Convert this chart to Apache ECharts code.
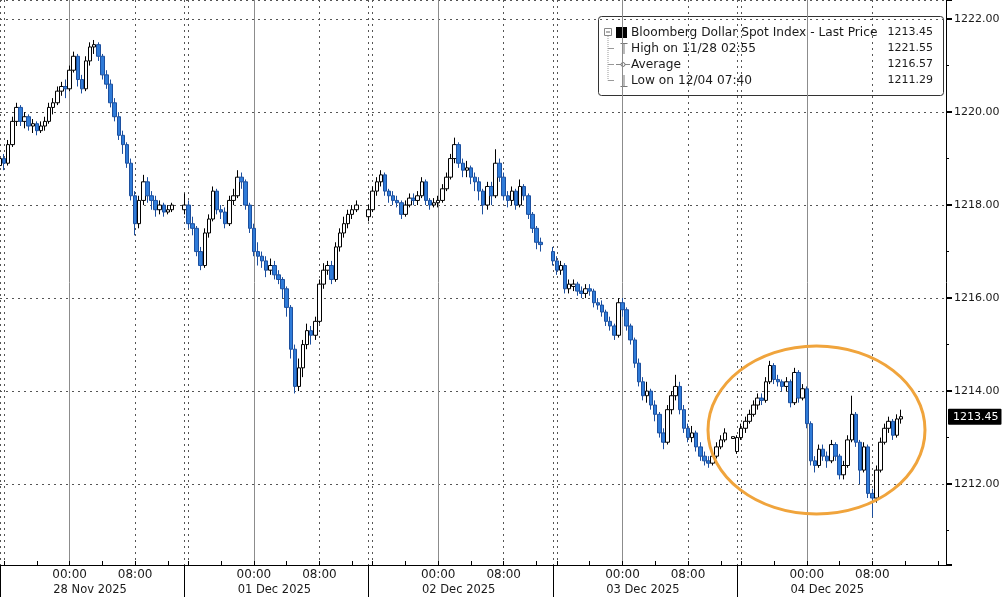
<!DOCTYPE html>
<html><head><meta charset="utf-8">
<script src="https://cdn.jsdelivr.net/npm/echarts@6/dist/echarts.min.js"></script>
<style>html,body{margin:0;padding:0;background:#fff;}#c{width:1003px;height:597px;}</style>
</head><body><div id="c"></div>
<script>
const FONT = 'DejaVu Sans';
const sessionDates = ['28 Nov 2025', '01 Dec 2025', '02 Dec 2025', '03 Dec 2025', '04 Dec 2025'];
const sessionSlots = [45, 45, 45, 45, 52];   // 30-minute slots, each session starts 15:30
const timeTickLabels = ['00:00', '08:00'];
const lastPrice = 1213.45;
const legendLabels = ['Bloomberg Dollar Spot Index - Last Price', 'High on 11/28 02:55', 'Average', 'Low on 12/04 07:40'];
const legendValues = [1213.45, 1221.55, 1216.57, 1211.29];

// bars: [open, close, low, high]
const nov28 = [
[1218.85,1219.0,1218.8,1219.15],[1219.0,1218.9,1218.75,1219.1],[1218.9,1219.3,1218.85,1219.4],[1219.3,1219.8,1219.25,1219.9],
[1219.8,1220.1,1219.7,1220.2],[1220.1,1219.8,1219.7,1220.15],[1219.8,1219.9,1219.65,1220.0],[1219.9,1219.7,1219.6,1219.95],
[1219.7,1219.75,1219.55,1219.85],[1219.75,1219.6,1219.5,1219.8],[1219.6,1219.7,1219.55,1219.8],[1219.7,1219.8,1219.6,1219.9],
[1219.8,1220.1,1219.75,1220.2],[1220.1,1220.2,1219.95,1220.3],[1220.2,1220.45,1220.15,1220.55],[1220.45,1220.55,1220.35,1220.65],
[1220.55,1220.5,1220.3,1220.7],[1220.5,1220.9,1220.45,1221.0],[1220.9,1221.2,1220.85,1221.3],[1221.2,1220.7,1220.55,1221.25],
[1220.7,1220.5,1220.4,1220.8],[1220.5,1221.1,1220.45,1221.2],[1221.1,1221.4,1221.0,1221.5],[1221.4,1221.45,1221.25,1221.55],
[1221.45,1221.2,1221.1,1221.5],[1221.2,1220.8,1220.7,1221.25],[1220.8,1220.6,1220.5,1220.9],[1220.6,1220.2,1220.1,1220.7],
[1220.2,1219.9,1219.8,1220.3],[1219.9,1219.5,1219.4,1220.0],[1219.5,1219.3,1219.1,1219.6],[1219.3,1218.9,1218.8,1219.35],
[1218.9,1218.2,1218.1,1219.0],[1218.2,1217.6,1217.35,1218.3],[1217.6,1218.1,1217.5,1218.2],[1218.1,1218.5,1218.0,1218.65],
[1218.5,1218.2,1218.05,1218.6],[1218.2,1218.1,1217.9,1218.3],[1218.1,1217.9,1217.75,1218.2],[1217.9,1218.0,1217.8,1218.1],
[1218.0,1217.85,1217.75,1218.05],[1217.85,1217.9,1217.8,1218.0],[1217.9,1218.0,1217.85,1218.05]
];
const dec01 = [
[1217.9,1218.0,1217.8,1218.25],[1218.0,1217.6,1217.5,1218.1],[1217.6,1217.5,1217.35,1217.75],[1217.5,1217.0,1216.9,1217.55],
[1217.0,1216.7,1216.6,1217.1],[1216.7,1217.4,1216.65,1217.5],[1217.4,1217.7,1217.3,1217.8],[1217.7,1218.3,1217.65,1218.4],
[1218.3,1217.9,1217.8,1218.35],[1217.9,1217.85,1217.7,1218.0],[1217.85,1217.6,1217.5,1217.95],[1217.6,1218.1,1217.55,1218.2],
[1218.1,1218.2,1218.0,1218.35],[1218.2,1218.6,1218.15,1218.75],[1218.6,1218.5,1218.35,1218.7],[1218.5,1218.0,1217.9,1218.55],
[1218.0,1217.5,1217.4,1218.05],[1217.5,1217.0,1216.9,1217.6],[1217.0,1216.9,1216.7,1217.2],[1216.9,1216.8,1216.65,1217.0],
[1216.8,1216.6,1216.45,1216.9],[1216.6,1216.7,1216.5,1216.85],[1216.7,1216.5,1216.4,1216.8],[1216.5,1216.4,1216.3,1216.6],
[1216.4,1216.2,1216.0,1216.45],[1216.2,1215.8,1215.6,1216.25],[1215.8,1214.9,1214.7,1215.85],[1214.9,1214.1,1213.95,1215.0],
[1214.1,1214.5,1214.0,1214.7],[1214.5,1215.0,1214.3,1215.1],[1215.0,1215.3,1214.9,1215.45],[1215.3,1215.2,1215.0,1215.4],
[1215.2,1215.5,1215.1,1215.6],[1215.5,1216.3,1215.45,1216.4],[1216.3,1216.6,1216.2,1216.75],[1216.6,1216.7,1216.5,1216.8],
[1216.7,1216.4,1216.3,1216.8],[1216.4,1217.1,1216.35,1217.2],[1217.1,1217.4,1217.0,1217.5],[1217.4,1217.6,1217.3,1217.75],
[1217.6,1217.8,1217.5,1217.9],[1217.8,1217.9,1217.7,1218.0],[1217.9,1218.0,1217.85,1218.1]
];
const dec02 = [
[1217.75,1217.9,1217.65,1218.0],[1217.9,1218.3,1217.85,1218.4],[1218.3,1218.5,1218.2,1218.6],[1218.5,1218.65,1218.4,1218.75],
[1218.65,1218.3,1218.2,1218.7],[1218.3,1218.2,1218.05,1218.35],[1218.2,1218.1,1218.0,1218.3],[1218.1,1218.05,1217.95,1218.2],
[1218.05,1217.8,1217.7,1218.1],[1217.8,1218.0,1217.75,1218.1],[1218.0,1218.15,1217.95,1218.25],[1218.15,1218.1,1218.0,1218.25],
[1218.1,1218.2,1218.0,1218.3],[1218.2,1218.5,1218.15,1218.6],[1218.5,1218.1,1218.0,1218.55],[1218.1,1218.0,1217.9,1218.15],
[1218.0,1218.05,1217.95,1218.15],[1218.05,1218.1,1217.95,1218.2],[1218.1,1218.35,1218.05,1218.45],[1218.35,1218.6,1218.3,1218.7],
[1218.6,1219.0,1218.55,1219.1],[1219.0,1219.3,1218.9,1219.45],[1219.3,1218.9,1218.8,1219.35],[1218.9,1218.75,1218.6,1219.0],
[1218.75,1218.8,1218.6,1218.95],[1218.8,1218.6,1218.45,1218.85],[1218.6,1218.5,1218.3,1218.7],[1218.5,1218.3,1218.1,1218.6],
[1218.3,1218.0,1217.8,1218.35],[1218.0,1218.4,1217.9,1218.5],[1218.4,1218.2,1218.0,1218.5],[1218.2,1218.9,1218.15,1219.2],
[1218.9,1218.6,1218.5,1219.0],[1218.6,1218.2,1218.1,1218.7],[1218.2,1218.1,1217.95,1218.3],[1218.1,1218.3,1218.0,1218.4],
[1218.3,1218.0,1217.9,1218.35],[1218.0,1218.4,1217.95,1218.55],[1218.4,1218.2,1218.1,1218.45],[1218.2,1217.8,1217.7,1218.25],
[1217.8,1217.5,1217.4,1217.85],[1217.5,1217.2,1217.05,1217.55],[1217.2,1217.15,1217.0,1217.3]
];
const dec03 = [
[1217.0,1216.8,1216.7,1217.1],[1216.8,1216.6,1216.5,1216.9],[1216.6,1216.7,1216.5,1216.8],[1216.7,1216.2,1216.1,1216.75],
[1216.2,1216.3,1216.1,1216.4],[1216.25,1216.3,1216.15,1216.4],[1216.3,1216.15,1216.05,1216.35],[1216.15,1216.1,1216.0,1216.25],
[1216.1,1216.2,1216.0,1216.3],[1216.2,1216.15,1216.05,1216.3],[1216.15,1215.9,1215.8,1216.2],[1215.9,1215.85,1215.75,1216.0],
[1215.85,1215.7,1215.6,1215.95],[1215.7,1215.5,1215.4,1215.75],[1215.5,1215.4,1215.3,1215.6],[1215.4,1215.2,1215.1,1215.45],
[1215.2,1215.9,1215.15,1216.0],[1215.9,1215.75,1215.6,1216.0],[1215.75,1215.4,1215.3,1215.8],[1215.4,1215.1,1215.0,1215.45],
[1215.1,1214.6,1214.5,1215.15],[1214.6,1214.2,1214.1,1214.7],[1214.2,1213.9,1213.8,1214.3],[1213.9,1214.0,1213.75,1214.2],
[1214.0,1213.7,1213.6,1214.05],[1213.7,1213.5,1213.35,1213.8],[1213.5,1213.1,1213.0,1213.55],[1213.1,1212.9,1212.75,1213.2],
[1212.9,1213.6,1212.85,1213.7],[1213.6,1213.9,1213.5,1214.0],[1213.9,1214.1,1213.8,1214.35],[1214.1,1213.6,1213.5,1214.2],
[1213.6,1213.2,1213.1,1213.7],[1213.2,1213.0,1212.9,1213.3],[1213.0,1213.1,1212.9,1213.25],[1213.1,1212.8,1212.7,1213.15],
[1212.8,1212.6,1212.5,1212.9],[1212.6,1212.5,1212.4,1212.7],[1212.5,1212.45,1212.35,1212.6],[1212.45,1212.6,1212.4,1212.7],
[1212.6,1212.8,1212.55,1212.9],[1212.8,1212.95,1212.75,1213.05],[1212.95,1213.1,1212.9,1213.2],null,
[1212.98,1213.02,1212.98,1213.02]
];
const dec04 = [
[1212.7,1213.0,1212.65,1213.05],[1213.0,1213.2,1212.95,1213.3],[1213.2,1213.35,1213.1,1213.45],[1213.35,1213.5,1213.3,1213.6],
[1213.5,1213.7,1213.45,1213.8],[1213.7,1213.85,1213.6,1213.95],[1213.85,1213.8,1213.7,1213.95],[1213.8,1214.2,1213.75,1214.3],
[1214.2,1214.55,1214.15,1214.65],[1214.55,1214.25,1214.15,1214.6],[1214.25,1214.2,1214.1,1214.35],[1214.2,1214.1,1214.0,1214.25],
[1214.1,1214.2,1214.0,1214.3],[1214.2,1213.75,1213.65,1214.25],[1213.75,1214.4,1213.7,1214.5],[1214.4,1213.85,1213.75,1214.45],
[1213.85,1214.05,1213.8,1214.15],[1214.05,1213.3,1213.2,1214.1],[1213.3,1212.5,1212.4,1213.35],[1212.5,1212.4,1212.25,1212.6],
[1212.4,1212.75,1212.35,1212.85],[1212.75,1212.6,1212.5,1212.85],[1212.6,1212.5,1212.35,1212.7],[1212.5,1212.85,1212.45,1212.95],
[1212.85,1212.6,1212.5,1212.9],[1212.6,1212.2,1212.1,1212.65],[1212.2,1212.4,1212.1,1212.5],[1212.4,1212.95,1212.35,1213.05],
[1212.95,1213.5,1212.9,1213.9],[1213.5,1212.9,1212.8,1213.55],[1212.9,1212.3,1212.0,1212.95],[1212.3,1212.8,1212.25,1212.9],
[1212.8,1211.8,1211.7,1212.85],[1211.8,1211.7,1211.29,1211.9],[1211.7,1212.3,1211.6,1212.4],[1212.3,1212.9,1212.25,1213.0],
[1212.9,1213.2,1212.85,1213.3],[1213.2,1213.35,1213.1,1213.45],[1213.35,1213.05,1212.95,1213.4],[1213.05,1213.4,1213.0,1213.5],
[1213.4,1213.45,1213.3,1213.6]
];
const sessionBars = [nov28, dec01, dec02, dec03, dec04];

// build category slots
const categories = [], slotIdx = [], bars = [];
sessionSlots.forEach((n, k) => {
  for (let j = 0; j < n; j++) {
    const m = (15 * 60 + 30 + 30 * j) % 1440;
    const t = String(Math.floor(m / 60)).padStart(2, '0') + ':' + String(m % 60).padStart(2, '0');
    categories.push(k + ' ' + t);
    slotIdx.push(j);
    const b = sessionBars[k][j];
    bars.push(b ? b : '-');
  }
});
const timeOf = v => v.split(' ')[1];
const sessOf = v => +v.split(' ')[0];

const chart = echarts.init(document.getElementById('c'), null, {renderer: 'canvas'});

chart.setOption({
  animation: false,
  backgroundColor: '#ffffff',
  grid: {left: 0, right: 57, top: 0, bottom: 32, containLabel: false},
  xAxis: [{
    type: 'category', data: categories, boundaryGap: false, position: 'bottom',
    axisLine: {show: true, lineStyle: {color: '#000', width: 1}},
    axisTick: {show: true, inside: true, length: 4, lineStyle: {color: '#000'},
      interval: (i) => (slotIdx[i] - 1) % 8 === 0},
    axisLabel: {show: true, margin: 4, fontSize: 12, fontFamily: FONT, color: '#1a1a1a',
      interval: (i, v) => timeTickLabels.indexOf(timeOf(v)) >= 0,
      formatter: (v) => timeOf(v)},
    splitLine: {show: true, interval: (i, v) => timeOf(v) === '00:00',
      lineStyle: {color: '#8c8c8c', width: 1, type: 'solid'}}
  }, {
    type: 'category', data: categories, boundaryGap: false, position: 'bottom',
    axisLine: {show: false},
    axisTick: {show: true, inside: false, length: 34, lineStyle: {color: '#000'},
      interval: (i) => slotIdx[i] === 0},
    axisLabel: {show: true, margin: 19, fontSize: 11.5, fontFamily: FONT, color: '#1a1a1a',
      interval: (i) => slotIdx[i] === 22,
      formatter: (v) => sessionDates[sessOf(v)]},
    splitLine: {show: true, interval: (i, v) => slotIdx[i] === 0 || slotIdx[i] === 1 || timeOf(v) === '08:00',
      lineStyle: {color: '#555', width: 1, type: [2, 4]}}
  }],
  yAxis: {
    type: 'value', position: 'right', min: 1210.26, max: 1222.41, splitNumber: 6,
    axisLine: {show: true, lineStyle: {color: '#000', width: 1}},
    axisTick: {show: true, length: 6, lineStyle: {color: '#000', width: 2}},
    minorTick: {show: true, splitNumber: 2, length: 3, lineStyle: {color: '#000', width: 1}},
    axisLabel: {show: true, margin: 8, fontSize: 11, fontFamily: FONT, color: '#1a1a1a',
      showMinLabel: false, showMaxLabel: false, formatter: (v) => v.toFixed(2)},
    splitLine: {show: true, lineStyle: {color: '#555', width: 1, type: [2, 4]}}
  },
  series: [{
    type: 'candlestick', xAxisIndex: 0, yAxisIndex: 0, data: bars, barWidth: 4,
    itemStyle: {color: '#ffffff', color0: '#2f7bd8', borderColor: '#000000', borderColor0: '#1c4f9e', borderWidth: 1},
    markLine: {
      silent: true, symbol: ['none', 'none'], animation: false,
      lineStyle: {color: 'rgba(0,0,0,0)', width: 1, type: 'solid'},
      data: [{yAxis: lastPrice}],
      label: {show: true, position: 'end', distance: 2, formatter: lastPrice.toFixed(2),
        color: '#fff', backgroundColor: '#000', padding: [3, 3, 2, 5], fontSize: 11, fontFamily: FONT,
        borderRadius: 1}
    }
  }],
  graphic: [
    {type: 'ellipse', shape: {cx: 816.5, cy: 430, rx: 108.5, ry: 84}, z: 100,
     style: {fill: 'none', stroke: '#f0a43c', lineWidth: 3}},
    {type: 'group', z: 110, children: [
      {type: 'rect', shape: {x: 598.5, y: 16.5, width: 345, height: 79, r: 3}, style: {fill: '#fff', stroke: '#333', lineWidth: 1}},
      {type: 'line', shape: {x1: 608, y1: 36, x2: 608, y2: 80.5}, style: {stroke: '#999', lineWidth: 1, lineDash: [1, 1]}},
      {type: 'line', shape: {x1: 608, y1: 48.5, x2: 614, y2: 48.5}, style: {stroke: '#999', lineWidth: 1}},
      {type: 'line', shape: {x1: 608, y1: 64.5, x2: 614, y2: 64.5}, style: {stroke: '#999', lineWidth: 1}},
      {type: 'line', shape: {x1: 608, y1: 80.5, x2: 614, y2: 80.5}, style: {stroke: '#999', lineWidth: 1}},
      {type: 'rect', shape: {x: 604.5, y: 28.5, width: 7, height: 7}, style: {fill: '#fff', stroke: '#888', lineWidth: 1}},
      {type: 'line', shape: {x1: 606, y1: 32, x2: 610, y2: 32}, style: {stroke: '#666', lineWidth: 1}},
      {type: 'rect', shape: {x: 616, y: 27, width: 11, height: 11}, style: {fill: '#000'}},
      {type: 'line', shape: {x1: 620.5, y1: 43.5, x2: 627.5, y2: 43.5}, style: {stroke: '#777', lineWidth: 1}},
      {type: 'line', shape: {x1: 624, y1: 43.5, x2: 624, y2: 54}, style: {stroke: '#777', lineWidth: 1}},
      {type: 'line', shape: {x1: 616, y1: 64.5, x2: 630, y2: 64.5}, style: {stroke: '#888', lineWidth: 1}},
      {type: 'circle', shape: {cx: 623, cy: 64.5, r: 2}, style: {fill: '#fff', stroke: '#777', lineWidth: 1}},
      {type: 'line', shape: {x1: 624, y1: 75, x2: 624, y2: 86}, style: {stroke: '#777', lineWidth: 1}},
      {type: 'line', shape: {x1: 620.5, y1: 86.5, x2: 627.5, y2: 86.5}, style: {stroke: '#777', lineWidth: 1}},
      ...legendLabels.map((s, i) => ({type: 'text', x: 631, y: [32.5, 48.5, 64.5, 80.5][i],
        style: {text: s, font: '12.2px "' + FONT + '"', fill: '#1a1a1a', textVerticalAlign: 'middle', textAlign: 'left'}})),
      ...legendValues.map((v, i) => ({type: 'text', x: 933, y: [32.5, 48.5, 64.5, 80.5][i],
        style: {text: v.toFixed(2), font: '11px "' + FONT + '"', fill: '#1a1a1a', textVerticalAlign: 'middle', textAlign: 'right'}}))
    ]}
  ]
});
</script></body></html>
